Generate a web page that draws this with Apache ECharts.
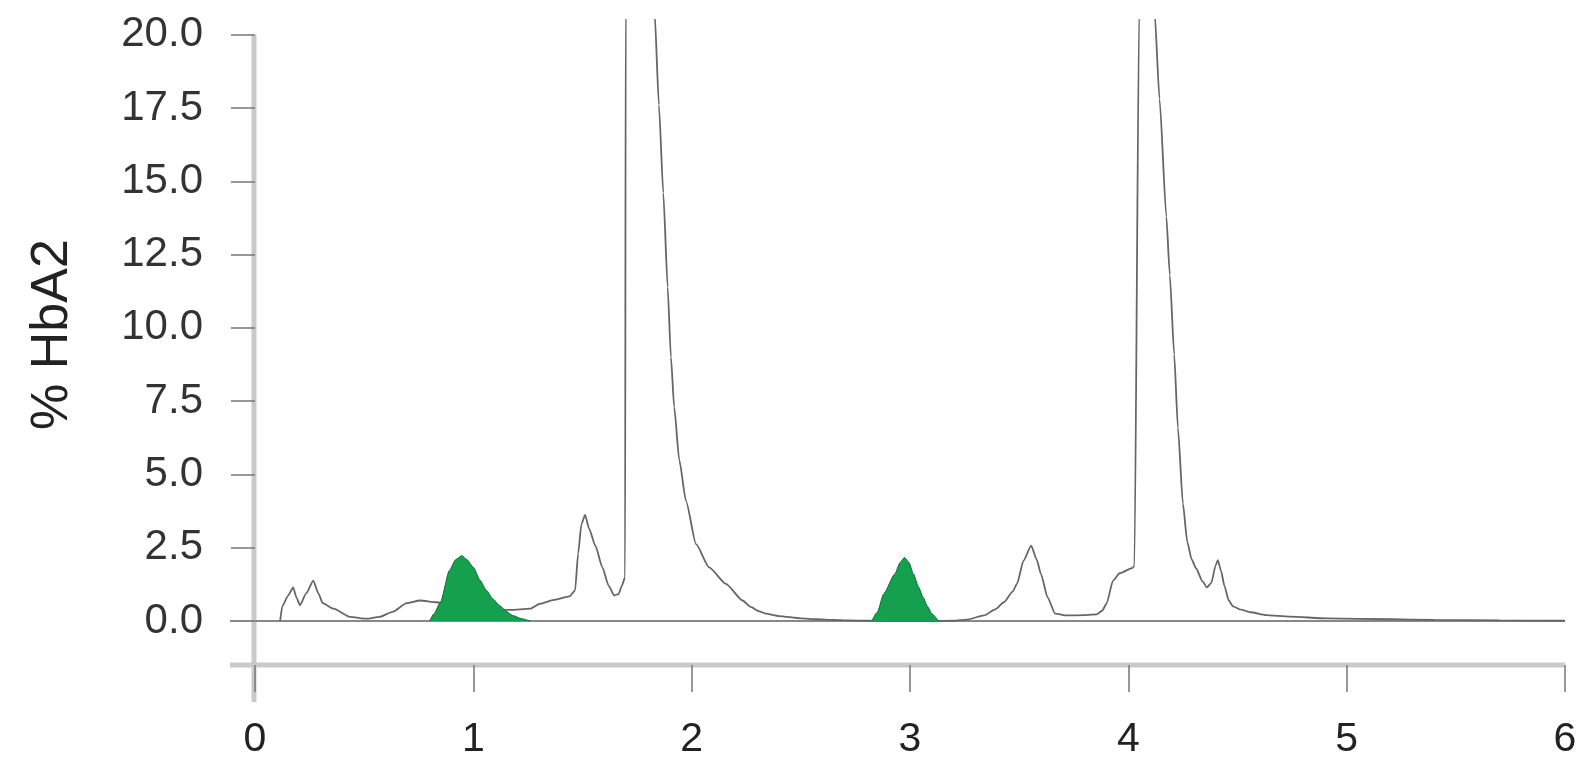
<!DOCTYPE html>
<html>
<head>
<meta charset="utf-8">
<script src="https://cdn.jsdelivr.net/npm/echarts@6/dist/echarts.min.js"></script>
<style>
  html, body { margin: 0; padding: 0; background: #fff; }
  #chart { width: 1591px; height: 760px; }
</style>
</head>
<body>
<div id="chart"></div>
<script>
// chromatogram trace (retention time, % HbA2)
var traceX = [0.115, 0.125, 0.15, 0.175, 0.19, 0.206, 0.235, 0.267, 0.29, 0.31, 0.36, 0.435, 0.51, 0.57, 0.63, 0.695, 0.756, 0.83, 0.9, 1.0,
  1.1, 1.17, 1.26, 1.305, 1.37, 1.44, 1.466, 1.48, 1.495, 1.512, 1.53, 1.56, 1.59, 1.62, 1.645, 1.665, 1.68, 1.695, 1.698, 1.75,
  1.8, 1.83, 1.85, 1.87, 1.89, 1.905, 1.92, 1.943, 1.974, 2.02, 2.08, 2.157, 2.233, 2.27, 2.31, 2.34, 2.4, 2.5, 2.57, 2.65,
  2.72, 2.8, 2.9, 3.0, 3.1, 3.2, 3.26, 3.34, 3.39, 3.43, 3.47, 3.49, 3.52, 3.555, 3.58, 3.6, 3.63, 3.665, 3.72, 3.8,
  3.855, 3.88, 3.9, 3.93, 3.96, 4.02, 4.028, 4.05, 4.08, 4.1, 4.12, 4.143, 4.174, 4.19, 4.21, 4.227, 4.25, 4.27, 4.29, 4.31,
  4.34, 4.36, 4.38, 4.4, 4.41, 4.425, 4.44, 4.46, 4.48, 4.51, 4.56, 4.63, 4.74, 4.91, 5.2, 5.4, 5.7, 6.0];
var traceY = [0, 0.5, 0.85, 1.15, 0.8, 0.54, 0.95, 1.38, 0.95, 0.61, 0.42, 0.14, 0.08, 0.14, 0.31, 0.61, 0.7, 0.64, 0.55, 0.45,
  0.4, 0.38, 0.42, 0.59, 0.72, 0.84, 1.04, 2.3, 3.3, 3.62, 3.15, 2.55, 1.85, 1.2, 0.87, 0.92, 1.2, 1.5, 21, 75,
  50, 20.8, 17.6, 14.6, 11.4, 9.0, 7.3, 5.5, 4.1, 2.62, 1.83, 1.27, 0.7, 0.48, 0.33, 0.25, 0.17, 0.09, 0.06, 0.04,
  0.02, 0.01, 0, 0, 0, 0.01, 0.05, 0.19, 0.4, 0.64, 1.0, 1.27, 2.06, 2.57, 2.1, 1.6, 0.81, 0.25, 0.19, 0.2,
  0.23, 0.35, 0.59, 1.38, 1.63, 1.81, 1.9, 21, 65, 50, 20.8, 17.8, 13.8, 11.8, 9.1, 6.6, 4.0, 2.7, 2.1, 1.8,
  1.35, 1.15, 1.3, 1.9, 2.08, 1.7, 1.2, 0.7, 0.5, 0.4, 0.3, 0.2, 0.15, 0.09, 0.06, 0.04, 0.02, 0.01];

// highlighted HbA2 peaks
var peak1X = [0.8, 0.82, 0.85, 0.89, 0.92, 0.947, 0.97, 1.0, 1.03, 1.06, 1.09, 1.12, 1.15, 1.18, 1.22, 1.26];
var peak1Y = [0, 0.25, 0.65, 1.72, 2.1, 2.23, 2.1, 1.83, 1.4, 1.04, 0.75, 0.53, 0.33, 0.19, 0.08, 0];
var peak2X = [2.825, 2.85, 2.88, 2.93, 2.955, 2.975, 2.995, 3.016, 3.04, 3.06, 3.08, 3.1, 3.13];
var peak2Y = [0, 0.3, 0.93, 1.6, 2.0, 2.17, 2.0, 1.6, 1.15, 0.81, 0.5, 0.25, 0];

var yTicks = [0, 2.5, 5, 7.5, 10, 12.5, 15, 17.5, 20];

function pairs(xs, ys) {
  return xs.map(function (x, i) { return [x, ys[i]]; });
}

var chart = echarts.init(document.getElementById('chart'));
var option = {
  animation: false,
  grid: { left: 255, right: 26, top: 20, bottom: 92 },
  xAxis: {
    type: 'value', min: 0, max: 6, interval: 1,
    axisLine: { show: false, onZero: false },
    axisTick: { show: true, length: 27, lineStyle: { color: '#777', width: 1.5 } },
    axisLabel: { fontSize: 41, fontFamily: 'Liberation Sans', color: '#222', margin: 54 },
    splitLine: { show: false }
  },
  yAxis: {
    type: 'value', min: -1.5, max: 20.5,
    name: '% HbA2', nameLocation: 'middle', nameRotate: 90, nameGap: 176,
    nameTextStyle: { fontSize: 52, fontFamily: 'Liberation Sans', color: '#222', padding: [0, 0, 0, 16] },
    axisLine: { show: false },
    axisTick: { show: true, customValues: yTicks, length: 24, lineStyle: { color: '#777', width: 1.5 } },
    axisLabel: {
      customValues: yTicks, fontSize: 42, fontFamily: 'Liberation Sans', color: '#333', margin: 52,
      formatter: function (v) { return v.toFixed(1); }
    },
    splitLine: { show: false }
  },
  series: [
    {
      type: 'line', data: pairs(traceX, traceY), showSymbol: false, z: 2,
      smooth: 0.2, smoothMonotone: 'x',
      lineStyle: { color: '#666', width: 1.8 }
    },
    {
      type: 'line', data: pairs(peak1X, peak1Y), showSymbol: false, z: 3,
      smooth: 0.2, smoothMonotone: 'x',
      lineStyle: { color: '#0b6a33', width: 1 },
      areaStyle: { color: '#14a04c', opacity: 1 }
    },
    {
      type: 'line', data: pairs(peak2X, peak2Y), showSymbol: false, z: 3,
      smooth: 0.2, smoothMonotone: 'x',
      lineStyle: { color: '#0b6a33', width: 1 },
      areaStyle: { color: '#14a04c', opacity: 1 }
    }
  ]
};
chart.setOption(option);

// axis lines drawn R-style, placed from the chart's own scales
var x0 = chart.convertToPixel({ xAxisIndex: 0 }, 0);
var x6 = chart.convertToPixel({ xAxisIndex: 0 }, 6);
var yTop = chart.convertToPixel({ yAxisIndex: 0 }, 20);
var yZero = chart.convertToPixel({ yAxisIndex: 0 }, 0);
var yBase = chart.convertToPixel({ yAxisIndex: 0 }, -1.5);
chart.setOption({
  graphic: [
    { type: 'line', z: 0, shape: { x1: x0 - 1, y1: yTop, x2: x0 - 1, y2: yBase + 37 }, style: { stroke: '#c9c9c9', lineWidth: 5 } },
    { type: 'line', z: 0, shape: { x1: x0 - 25, y1: yBase, x2: x6, y2: yBase }, style: { stroke: '#c9c9c9', lineWidth: 5 } },
    { type: 'line', z: 1, shape: { x1: x0 - 25, y1: yZero, x2: x6, y2: yZero }, style: { stroke: '#888', lineWidth: 2 } }
  ]
});
</script>
</body>
</html>
